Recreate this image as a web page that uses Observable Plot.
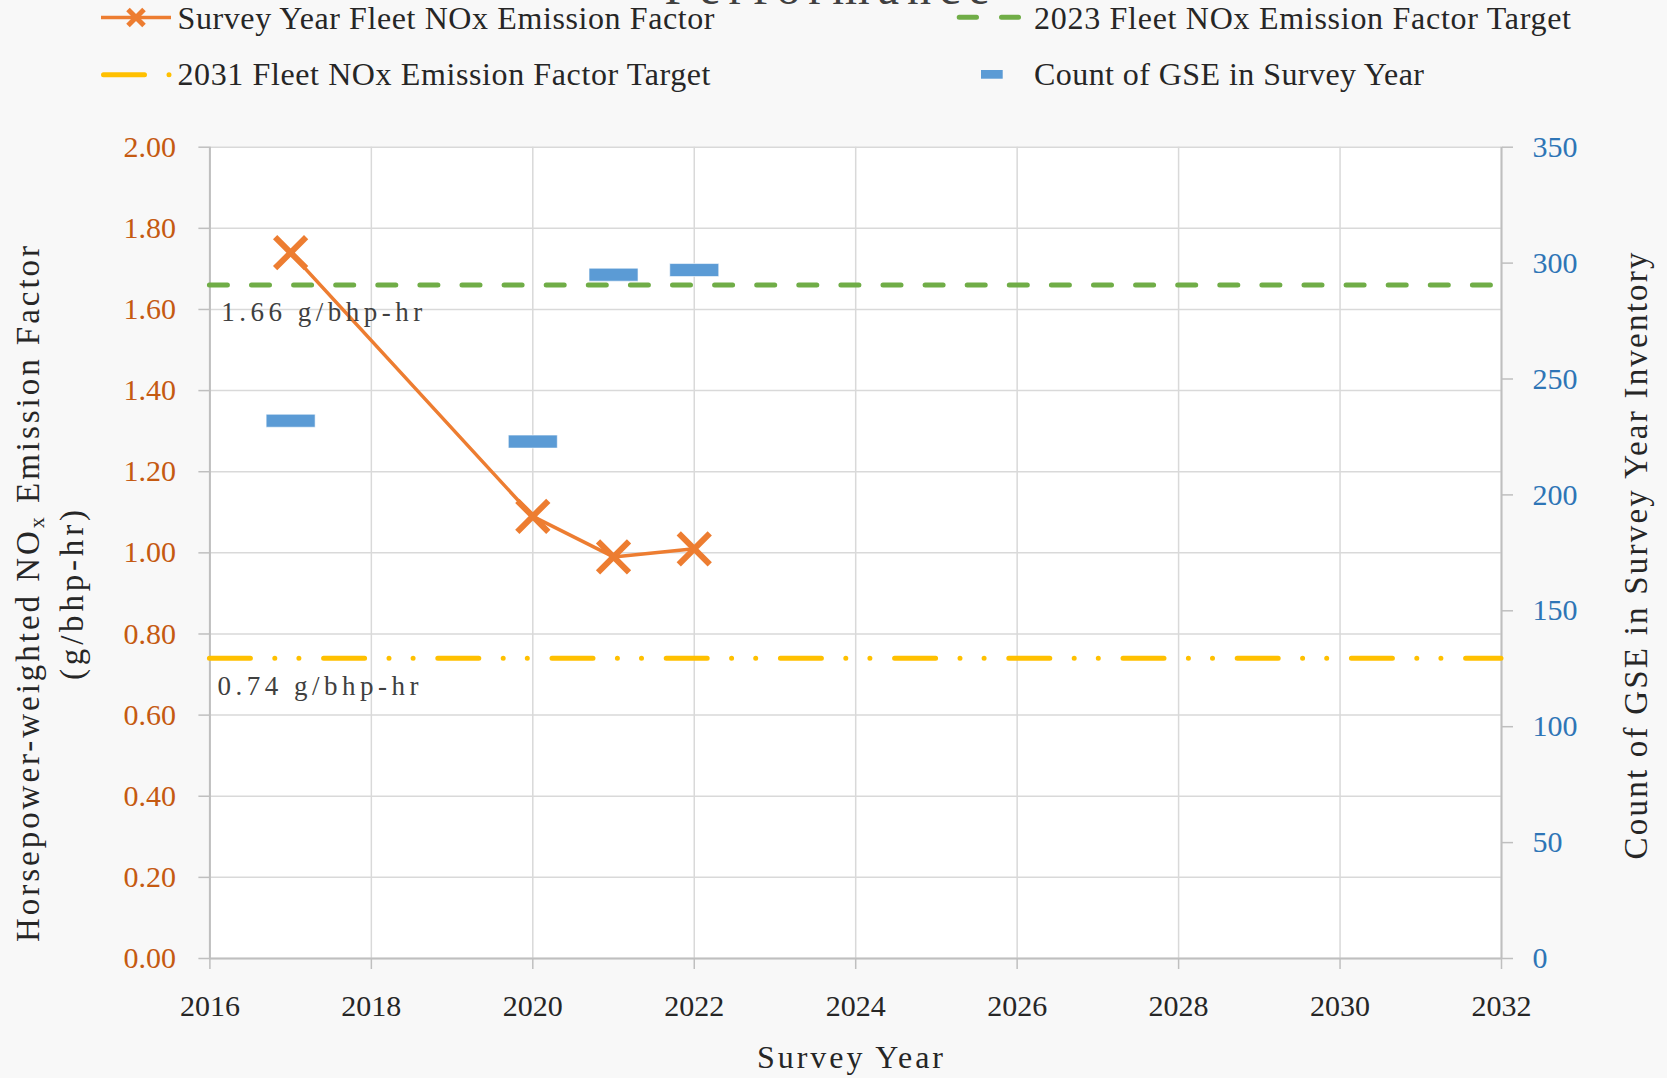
<!DOCTYPE html>
<html><head><meta charset="utf-8">
<script src="https://cdn.jsdelivr.net/npm/d3@7"></script>
<script src="https://cdn.jsdelivr.net/npm/@observablehq/plot@0.6"></script>
<style>
html,body{margin:0;padding:0;background:#F8F8F8;}
#wrap{position:relative;width:1667px;height:1078px;overflow:hidden;font-family:"Liberation Serif","Times New Roman",serif;}
#topsvg{position:absolute;left:0;top:0;}
#chart{position:absolute;left:0;top:100px;}
</style></head><body>
<div id="wrap"><svg id="topsvg" width="1667" height="100"></svg><div id="chart"></div></div>
<script>
// ---- data ----
const surveyYears = [2017, 2020, 2021, 2022];
const noxFactor = [1.74, 1.09, 0.99, 1.01];
const gseCount = [232, 223, 295, 297];
const target2023 = [1.66];
const target2031 = [0.74];
const xTicks = [2016, 2018, 2020, 2022, 2024, 2026, 2028, 2030, 2032];
const yTicksLeft = [0, 0.2, 0.4, 0.6, 0.8, 1.0, 1.2, 1.4, 1.6, 1.8, 2.0];
const yTicksRight = [0, 50, 100, 150, 200, 250, 300, 350];
const seriesNames = ["Survey Year Fleet NOx Emission Factor", "2023 Fleet NOx Emission Factor Target",
  "2031 Fleet NOx Emission Factor Target", "Count of GSE in Survey Year"];
const titleText = "Performance";
const xTitle = "Survey Year";
const yRightTitle = "Count of GSE in Survey Year Inventory";

// ---- build table ----
const rows = surveyYears.map((yr, i) => ({year: yr, nox: noxFactor[i], count: gseCount[i]}));
const leftMax = yTicksLeft[yTicksLeft.length - 1];
const rightMax = yTicksRight[yTicksRight.length - 1];
const ratio = leftMax / rightMax;

const rectSymbol = {draw(ctx) { ctx.rect(-24.5, -6.5, 49, 13); }};
const xSymbol = {draw(ctx) { const r = 15.5; ctx.moveTo(-r, -r); ctx.lineTo(r, r); ctx.moveTo(-r, r); ctx.lineTo(r, -r); }};

const FONT = "'Liberation Serif', 'Times New Roman', serif";

const chart = Plot.plot({
  width: 1667, height: 978,
  marginTop: 46.7, marginBottom: 120, marginLeft: 209.4, marginRight: 166,
  style: {background: "transparent", fontFamily: FONT, fontSize: "30px", overflow: "visible"},
  x: {domain: [xTicks[0], xTicks[xTicks.length - 1]]},
  y: {domain: [0, leftMax]},
  marks: [
    Plot.frame({fill: "white", stroke: null}),
    Plot.gridX(xTicks, {stroke: "#D9D9D9", strokeOpacity: 1, strokeWidth: 1.5}),
    Plot.gridY(yTicksLeft, {stroke: "#D9D9D9", strokeOpacity: 1, strokeWidth: 1.5}),
    Plot.ruleX([xTicks[0], xTicks[xTicks.length - 1]], {stroke: "#BFBFBF", strokeWidth: 2}),
    Plot.ruleY([yTicksLeft[0]], {stroke: "#BFBFBF", strokeWidth: 2}),
    Plot.axisX(xTicks, {tickSize: 11, tickPadding: 25, stroke: "#BFBFBF", strokeWidth: 1.5, fill: "#262626", fontSize: 30, tickFormat: d => String(d), label: null}),
    Plot.axisY(yTicksLeft, {anchor: "left", tickSize: 11, tickPadding: 23, stroke: "#BFBFBF", strokeWidth: 1.5, fill: "#C55A11", fontSize: 30, tickFormat: d => d.toFixed(2), label: null}),
    Plot.axisY(yTicksRight.map(v => v * ratio), {anchor: "right", tickSize: 11, tickPadding: 20, stroke: "#BFBFBF", strokeWidth: 1.5, fill: "#2E75B6", fontSize: 30, tickFormat: d => String(Math.round(d / ratio)), label: null}),
    Plot.ruleY(target2023, {stroke: "#70AD47", strokeWidth: 5, strokeDasharray: "18,24.1", strokeLinecap: "round"}),
    Plot.ruleY(target2031, {stroke: "#FFC000", strokeWidth: 5, strokeDasharray: "41,24.4,0,24.1,0,24.7", strokeLinecap: "round"}),
    Plot.dot(rows, {x: "year", y: d => d.count * ratio, symbol: rectSymbol, fill: "#5B9BD5", stroke: "white", strokeWidth: 0.6, r: 10}),
    Plot.line(rows, {x: "year", y: "nox", stroke: "#ED7D31", strokeWidth: 3.5}),
    Plot.dot(rows, {x: "year", y: "nox", symbol: xSymbol, stroke: "#ED7D31", strokeWidth: 6, fill: "none", r: 10}),
    Plot.text(target2023, {x: xTicks[0], y: d => d, text: d => `${d.toFixed(2)} g/bhp-hr`, textAnchor: "start", lineAnchor: "bottom", dx: 11.4, dy: 35.5, fill: "#404040", fontSize: 27, fontFamily: FONT}),
    Plot.text(target2031, {x: xTicks[0], y: d => d, text: d => `${d.toFixed(2)} g/bhp-hr`, textAnchor: "start", lineAnchor: "bottom", dx: 7.6, dy: 37, fill: "#404040", fontSize: 27, fontFamily: FONT})
  ]
});
document.getElementById("chart").appendChild(chart);

// fit data-label widths
const svg = d3.select(chart);
svg.selectAll("text").filter(function() { return /g\/bhp-hr/.test(this.textContent); })
  .attr("textLength", 201).attr("lengthAdjust", "spacing");

// axis titles
const T = 100; // svg top offset
const lt = svg.append("text").attr("transform", `translate(39.3,${594 - T}) rotate(-90)`)
  .attr("text-anchor", "middle").attr("font-size", 33).attr("fill", "#262626").attr("font-family", FONT)
  .attr("textLength", 696).attr("lengthAdjust", "spacing");
lt.append("tspan").text("Horsepower-weighted NO");
lt.append("tspan").attr("font-size", 22).attr("dy", 5).text("x");
lt.append("tspan").attr("dy", -5).text(" Emission Factor");
svg.append("text").attr("transform", `translate(83,${595 - T}) rotate(-90)`)
  .attr("text-anchor", "middle").attr("font-size", 33).attr("fill", "#262626").attr("font-family", FONT)
  .attr("textLength", 170).attr("lengthAdjust", "spacing").text("(g/bhp-hr)");
svg.append("text").attr("transform", `translate(1647,${556 - T}) rotate(-90)`)
  .attr("text-anchor", "middle").attr("font-size", 33).attr("fill", "#262626").attr("font-family", FONT)
  .attr("textLength", 607).attr("lengthAdjust", "spacing").text(yRightTitle);
svg.append("text").attr("x", 850).attr("y", 1068 - T)
  .attr("text-anchor", "middle").attr("font-size", 32).attr("fill", "#262626").attr("font-family", FONT)
  .attr("textLength", 186).attr("lengthAdjust", "spacing").text(xTitle);

// legend + title (above the chart)
const topSvg = d3.select("#topsvg");
topSvg.append("text").attr("x", 827).attr("y", 3.5).attr("text-anchor", "middle").attr("font-size", 48)
  .attr("fill", "#404040").attr("font-family", FONT).attr("textLength", 325).attr("lengthAdjust", "spacing").text(titleText);
// item 1
topSvg.append("line").attr("x1", 101).attr("x2", 171).attr("y1", 17.5).attr("y2", 17.5).attr("stroke", "#ED7D31").attr("stroke-width", 3.5);
topSvg.append("path").attr("d", "M128,9.5L144,25.5M128,25.5L144,9.5").attr("stroke", "#ED7D31").attr("stroke-width", 5);
// item 2
topSvg.append("line").attr("x1", 959.2).attr("x2", 1018.5).attr("y1", 17.3).attr("y2", 17.3).attr("stroke", "#70AD47").attr("stroke-width", 5)
  .attr("stroke-linecap", "round").attr("stroke-dasharray", "17.3,25");
// item 3
topSvg.append("line").attr("x1", 103.5).attr("x2", 170).attr("y1", 74.7).attr("y2", 74.7).attr("stroke", "#FFC000").attr("stroke-width", 5)
  .attr("stroke-linecap", "round").attr("stroke-dasharray", "41,24.5,0,30");
// item 4
topSvg.append("rect").attr("x", 981).attr("y", 70).attr("width", 21.7).attr("height", 8.7).attr("fill", "#5B9BD5");
const legendPos = [[177.5, 29, 537], [1034, 29, 537], [177.5, 85, 533], [1034, 85, 390]];
seriesNames.forEach((name, i) => {
  topSvg.append("text").attr("x", legendPos[i][0]).attr("y", legendPos[i][1]).attr("font-size", 32)
    .attr("fill", "#262626").attr("font-family", FONT).attr("textLength", legendPos[i][2]).attr("lengthAdjust", "spacing").text(name);
});
</script>
</body></html>
